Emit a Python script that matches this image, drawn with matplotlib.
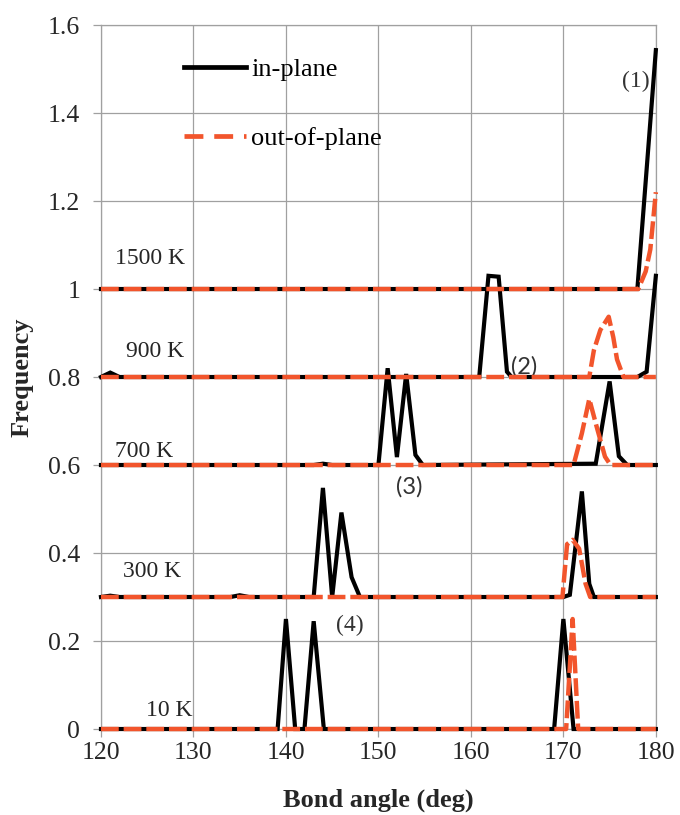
import numpy as np
import matplotlib
matplotlib.use("Agg")
import matplotlib.pyplot as plt
from matplotlib.lines import Line2D

# values (absolute frequency incl. vertical offset of each temperature)
t10_in_x = [120, 139.1, 140, 141, 142, 143, 144.1, 169, 170, 171.1, 180]
t10_in_y = [0, 0, 0.25, 0, 0, 0.245, 0, 0, 0.25, 0, 0]
t10_out_x = [120, 170.3, 171, 171.6, 180]
t10_out_y = [0, 0, 0.25, 0, 0]

t300_in_x = [120, 121, 122, 134, 135, 136, 143, 144, 145, 146, 147.1, 148,
             170, 170.7, 172, 172.8, 173.3, 180]
t300_in_y = [0.3, 0.303, 0.3, 0.3, 0.304, 0.3, 0.3, 0.548, 0.3, 0.492, 0.345, 0.3,
             0.3, 0.305, 0.54, 0.33, 0.3, 0.3]
t300_out_x = [120, 169.9, 170.4, 171, 171.7, 172.4, 172.9, 180]
t300_out_y = [0.3, 0.3, 0.42, 0.43, 0.41, 0.33, 0.3, 0.3]

t700_in_x = [120, 143, 144, 145, 150, 151, 152, 153, 154, 154.8,
             173.5, 175, 176, 176.9, 180]
t700_in_y = [0.6, 0.6, 0.603, 0.6, 0.6, 0.82, 0.618, 0.807, 0.623, 0.6,
             0.603, 0.79, 0.62, 0.6, 0.6]
t700_out_x = [120, 171.1, 172, 172.8, 173.6, 174.5, 175.1, 180]
t700_out_y = [0.6, 0.6, 0.672, 0.75, 0.687, 0.619, 0.6, 0.6]

t900_in_x = [120, 121, 122, 160.9, 161.9, 163, 163.9, 164.4, 178, 179, 180]
t900_in_y = [0.8, 0.81, 0.8, 0.8, 1.03, 1.028, 0.812, 0.8, 0.8, 0.812, 1.03]
t900_out_x = [120, 172.8, 173.3, 174, 174.9, 175.4, 175.8, 176.5, 180]
t900_out_y = [0.8, 0.8, 0.861, 0.907, 0.937, 0.89, 0.84, 0.8, 0.8]

t1500_in_x = [120, 178, 180]
t1500_in_y = [1, 1, 1.543]
t1500_out_x = [120, 178.1, 178.9, 179.4, 180]
t1500_out_y = [1, 1, 1.04, 1.09, 1.22]

temp_labels = ["10 K", "300 K", "700 K", "900 K", "1500 K"]
temp_label_pos = [(127.4, 0.043), (125.5, 0.357), (124.7, 0.63), (125.8, 0.857), (125.3, 1.07)]

peak_labels = ["(1)", "(2)", "(3)", "(4)"]
peak_label_pos = [(177.8, 1.471), (165.8, 0.823), (153.3, 0.551), (146.9, 0.236)]

x_ticks = [120, 130, 140, 150, 160, 170, 180]
y_ticks = [0, 0.2, 0.4, 0.6, 0.8, 1.0, 1.2, 1.4, 1.6]
y_ticklabels = ["0", "0.2", "0.4", "0.6", "0.8", "1", "1.2", "1.4", "1.6"]

serif = ["Liberation Serif", "DejaVu Serif"]
plt.rcParams["font.family"] = serif

grid_c = "#a0a0a0"
text_c = "#262626"
black = "#000000"
orange = "#f2552c"

fig = plt.figure(figsize=(6.8, 8.15), dpi=100)
ax = fig.add_axes([0.1485, 0.1055, 0.816, 0.8638])

in_series = [(t10_in_x, t10_in_y), (t300_in_x, t300_in_y), (t700_in_x, t700_in_y),
             (t900_in_x, t900_in_y), (t1500_in_x, t1500_in_y)]
out_series = [(t10_out_x, t10_out_y), (t300_out_x, t300_out_y), (t700_out_x, t700_out_y),
              (t900_out_x, t900_out_y), (t1500_out_x, t1500_out_y)]

for x, y in in_series:
    ax.plot(x, y, color=black, lw=3.0, solid_joinstyle="miter", zorder=3, clip_on=False)
for x, y in out_series:
    ax.plot(x, y, color=orange, lw=3.2, dashes=(4.0, 1.1), zorder=4, clip_on=False)

for lab, (x, y) in zip(temp_labels, temp_label_pos):
    ax.text(x, y, lab, fontsize=17, color=text_c, ha="center", va="center")

for lab, (x, y) in zip(peak_labels, peak_label_pos):
    fam = ["Lato", "DejaVu Sans"] if lab in ("(2)", "(3)") else serif
    ax.text(x, y, lab, fontsize=17, color="#333333", ha="center", va="center", family=fam)

ax.set_xlim(120, 180)
ax.set_ylim(0, 1.6)
ax.set_xticks(x_ticks)
ax.set_yticks(y_ticks)
ax.set_yticklabels(y_ticklabels)
ax.grid(True, color=grid_c, lw=0.9)
ax.set_axisbelow(True)
for s in ax.spines.values():
    s.set_color(grid_c)
    s.set_linewidth(0.9)
ax.tick_params(axis="both", colors=grid_c, labelcolor=text_c, labelsize=18.5, length=6, width=0.9)
ax.tick_params(axis="y", pad=9)
ax.tick_params(axis="x", pad=3)

ax.set_xlabel("Bond angle (deg)", fontsize=19, fontweight="bold", color=text_c, labelpad=18)
ax.set_ylabel("Frequency", fontsize=19, fontweight="bold", color=text_c, labelpad=10)

handles = [Line2D([], [], color=black, lw=3.4),
           Line2D([], [], color=orange, lw=3.4, dashes=(4.0, 2.3))]
ax.legend(handles, ["in-plane", "out-of-plane"], loc="upper left",
          bbox_to_anchor=(0.1495, 0.954), frameon=False, fontsize=19,
          handlelength=2.35, handletextpad=0.2, labelspacing=1.72,
          borderpad=0, borderaxespad=0)

fig.savefig("out.png", dpi=100)
